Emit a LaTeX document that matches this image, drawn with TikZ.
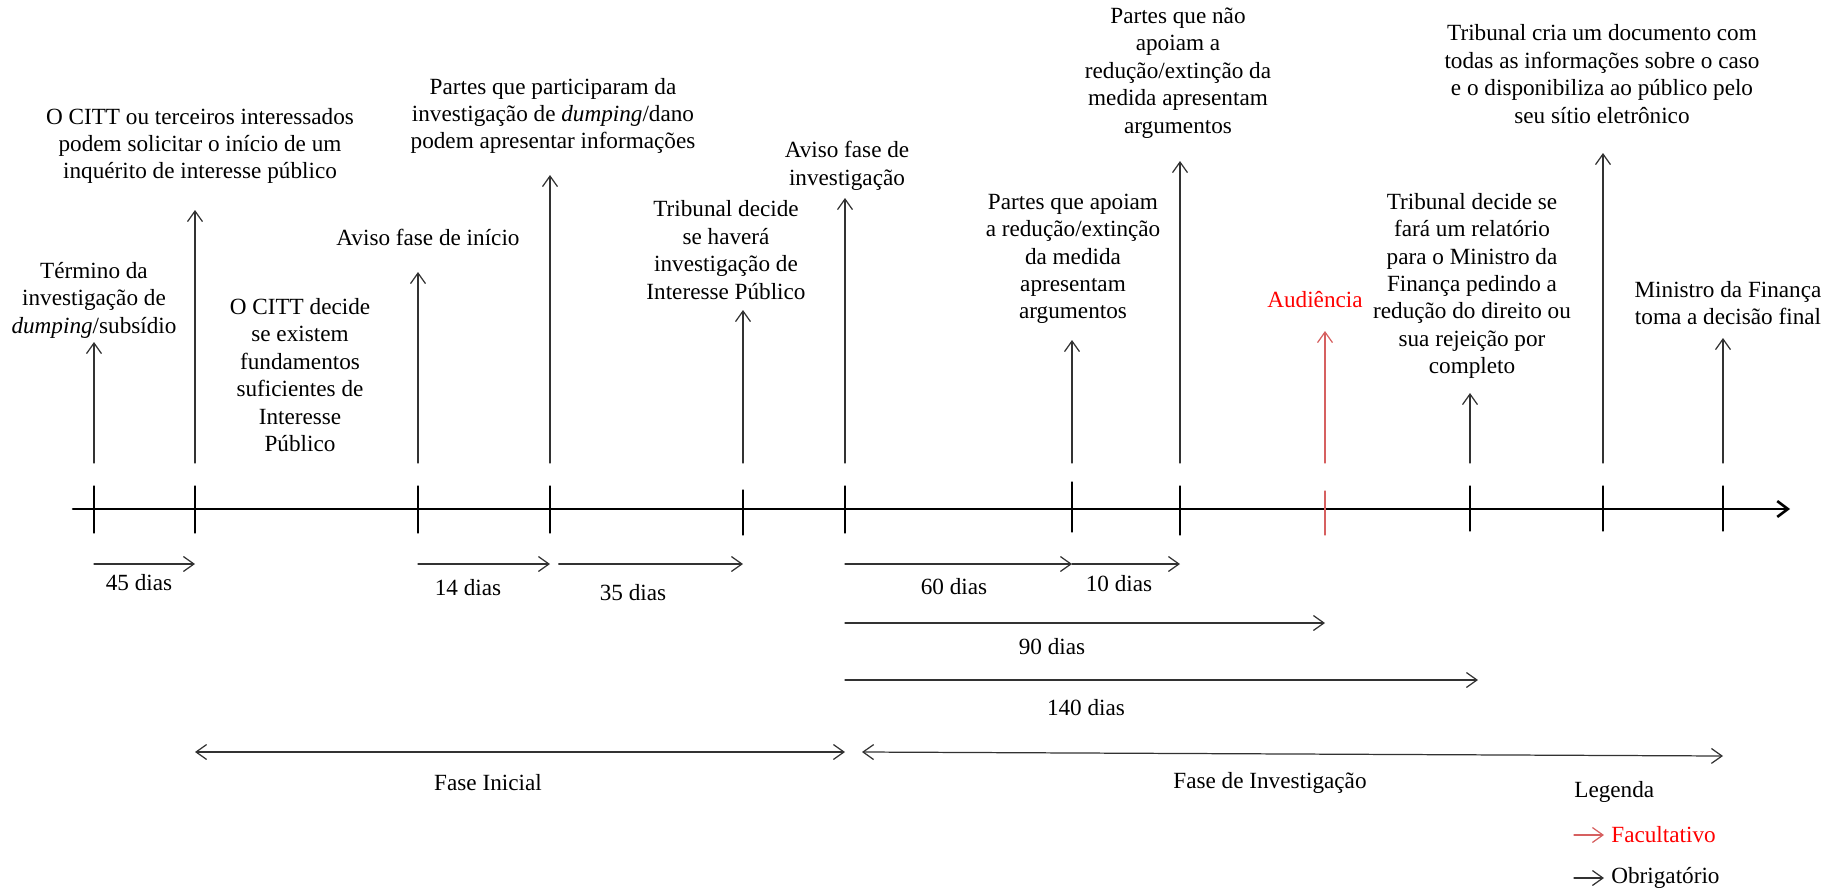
\documentclass[tikz,border=0pt]{standalone}
\usepackage{fontspec}
\setmainfont{Liberation Serif}
\usetikzlibrary{arrows.meta}
\definecolor{linegray}{RGB}{50,50,50}
\definecolor{optred}{RGB}{214,96,96}

\begin{document}
\begin{tikzpicture}[line cap=round,line join=round,>={Straight Barb[length=6pt,width=8.5pt]},x=0.02cm,y=-0.02cm,
  font=\fontsize{13.2}{15.6}\selectfont,
  txt/.style={align=center,inner sep=0pt},
  ev/.style={->,color=linegray,line width=0.7pt},
  phase/.style={<->,color=linegray,line width=0.7pt}]
\useasboundingbox (0,0) rectangle (1847,893);
% eixo
\coordinate (ax0) at (73,509);
\coordinate (ax1) at (1790,509);
\draw [line width=1.5pt,-{Straight Barb[length=6pt,width=9pt]}] (ax0) -- (ax1);
\draw [line width=0.7pt] (94,486)-- (94,533);
\draw [line width=0.7pt] (195,486)-- (195,533);
\draw [line width=0.7pt] (418,486)-- (418,533);
\draw [line width=0.7pt] (550,486)-- (550,533);
\draw [line width=0.7pt] (743,490)-- (743,535);
\draw [line width=0.7pt] (845,486)-- (845,533);
\draw [line width=0.7pt] (1072,482)-- (1072,532);
\draw [line width=0.7pt] (1180,486)-- (1180,535);
\draw [line width=0.7pt,color=optred] (1325,491)-- (1325,535);
\draw [line width=0.7pt] (1470,486)-- (1470,531);
\draw [line width=0.7pt] (1603,486)-- (1603,531);
\draw [line width=0.7pt] (1723,486)-- (1723,531);
% eventos
\coordinate (base) at (0,463);
\coordinate (termino) at (94,342);
\coordinate (solicitar) at (195,210);
\coordinate (aviso) at (418,272);
\coordinate (partes) at (550,175);
\coordinate (havera) at (743,310);
\coordinate (avisoinv) at (845,198);
\coordinate (apoiam) at (1072,340);
\coordinate (naoapoiam) at (1180,161);
\coordinate (audiencia) at (1325,331);
\coordinate (relatorio) at (1470,393);
\coordinate (documento) at (1603,153);
\coordinate (ministro) at (1723,338);
\draw [ev] (termino |- base) -- (termino);
\draw [ev] (solicitar |- base) -- (solicitar);
\draw [ev] (aviso |- base) -- (aviso);
\draw [ev] (partes |- base) -- (partes);
\draw [ev] (havera |- base) -- (havera);
\draw [ev] (avisoinv |- base) -- (avisoinv);
\draw [ev] (apoiam |- base) -- (apoiam);
\draw [ev] (naoapoiam |- base) -- (naoapoiam);
\draw [ev,color=optred] (audiencia |- base) -- (audiencia);
\draw [ev] (relatorio |- base) -- (relatorio);
\draw [ev] (documento |- base) -- (documento);
\draw [ev] (ministro |- base) -- (ministro);
\node [txt] (ltermino) at (94,300) {Término da\\investigação de\\\textit{dumping}/subsídio};
\node [txt] (lsolicitar) at (200,146) {O CITT ou terceiros interessados\\podem solicitar o início de um\\inquérito de interesse público};
\node [txt] (lfundamentos) at (300,375) {O CITT decide\\se existem\\fundamentos\\suficientes de\\Interesse\\Público};
\node [txt] (laviso) at (428,237) {Aviso fase de início};
\node [txt] (lpartes) at (553,116) {Partes que participaram da\\investigação de \textit{dumping}/dano\\podem apresentar informações};
\node [txt] (lhavera) at (726,250) {Tribunal decide\\se haverá\\investigação de\\Interesse Público};
\node [txt] (lavisoinv) at (847,166) {Aviso fase de\\investigação};
\node [txt] (lapoiam) at (1073,259) {Partes que apoiam\\a redução/extinção\\da medida\\apresentam\\argumentos};
\node [txt] (lnaoapoiam) at (1178,73) {Partes que não\\apoiam a\\redução/extinção da\\medida apresentam\\argumentos};
\node [txt,color=red] (laudiencia) at (1315,300) {Audiência};
\node [txt] (lrelatorio) at (1472,286) {Tribunal decide se\\fará um relatório\\para o Ministro da\\Finança pedindo a\\redução do direito ou\\sua rejeição por\\completo};
\node [txt] (ldocumento) at (1602,74) {Tribunal cria um documento com\\todas as informações sobre o caso\\e o disponibiliza ao público pelo\\seu sítio eletrônico};
\node [txt] (lministro) at (1728,303) {Ministro da Finança\\toma a decisão final};
% prazos
\coordinate (d1) at (0,564);
\coordinate (d2) at (0,623);
\coordinate (d3) at (0,680);
\coordinate (fim140) at (1478,680);
\draw [ev] (termino |- d1) -- (solicitar |- d1);
\draw [ev] (aviso |- d1) -- (partes |- d1);
\draw [ev] ([xshift=5]partes |- d1) -- (havera |- d1);
\draw [ev] (avisoinv |- d1) -- (apoiam |- d1);
\draw [ev] (apoiam |- d1) -- (naoapoiam |- d1);
\draw [ev] (avisoinv |- d2) -- (audiencia |- d2);
\draw [ev] (avisoinv |- d3) -- (fim140);
\node [txt] (p45) at (139,583) {45 dias};
\node [txt] (p14) at (468,588) {14 dias};
\node [txt] (p35) at (633,593) {35 dias};
\node [txt] (p60) at (954,587) {60 dias};
\node [txt] (p10) at (1119,584) {10 dias};
\node [txt] (p90) at (1052,647) {90 dias};
\node [txt] (p140) at (1086,708) {140 dias};
% fases
\coordinate (f1) at (0,752);
\coordinate (f2a) at (862,752);
\coordinate (f2b) at (1723,756);
\draw [phase] (solicitar |- f1) -- (avisoinv |- f1);
\draw [phase] (f2a) -- (f2b);
\node [txt] (finicial) at (488,783) {Fase Inicial};
\node [txt] (finvest) at (1270,783) {Fase de Investigação};
% legenda
\node [txt,anchor=west] (legenda) at (1574,792) {Legenda};
\coordinate (lg1a) at (1574,835);
\coordinate (lg1b) at (1604,835);
\coordinate (lg2a) at (1574,878);
\coordinate (lg2b) at (1604,878);
\draw [ev,color=optred] (lg1a) -- (lg1b);
\draw [ev] (lg2a) -- (lg2b);
\node [txt,anchor=west,color=red] (facult) at (1611,835) {Facultativo};
\node [txt,anchor=west] (obrig) at (1611,878) {Obrigatório};
\end{tikzpicture}
\end{document}
